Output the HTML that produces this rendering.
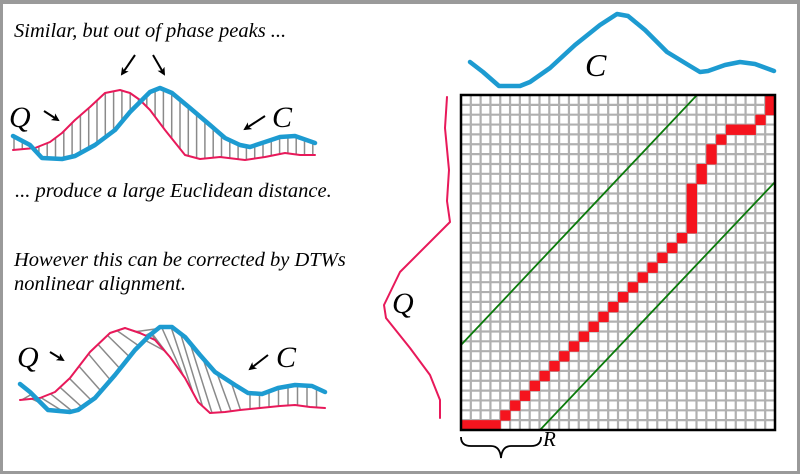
<!DOCTYPE html>
<html><head><meta charset="utf-8"><style>
html,body{margin:0;padding:0;background:#fff}
#w{position:relative;width:800px;height:474px;overflow:hidden;box-sizing:border-box;border:3px solid #9a9a9a;border-top-width:4px}
svg{position:absolute;left:-3px;top:-4px}
text{font-family:"Liberation Serif",serif;font-style:italic;fill:#000}
</style></head><body><div id="w">
<svg id="s" width="800" height="474" viewBox="0 0 800 474" xmlns="http://www.w3.org/2000/svg">
<defs><marker id="ah" markerWidth="8" markerHeight="8" refX="6" refY="4" orient="auto" markerUnits="userSpaceOnUse"><path d="M0,0 L8,4 L0,8 L2,4z" fill="#000"/></marker></defs>
<g id="hatch" stroke="#8a8a8a" stroke-width="1.5"></g>
<g id="grid"></g>
<text x="14" y="37" font-size="20.5">Similar, but out of phase peaks ...</text>
<text x="15" y="197" font-size="20.5">... produce a large Euclidean distance.</text>
<text x="14" y="266" font-size="20.5">However this can be corrected by DTWs</text>
<text x="14" y="290" font-size="20.5">nonlinear alignment.</text>
<text x="9" y="127" font-size="30">Q</text>
<text x="272" y="127" font-size="30">C</text>
<text x="17" y="367" font-size="30">Q</text>
<text x="276" y="367" font-size="30">C</text>
<text x="585" y="76" font-size="32">C</text>
<text x="392" y="313" font-size="30">Q</text>
<text x="543" y="446" font-size="21">R</text>
<g stroke="#000" stroke-width="2" fill="none" marker-end="url(#ah)">
<line x1="135" y1="55" x2="122" y2="74"/>
<line x1="153" y1="55" x2="164" y2="74"/>
<line x1="44" y1="111" x2="58" y2="120"/>
<line x1="265" y1="116" x2="245" y2="129"/>
<line x1="50" y1="352" x2="63" y2="360"/>
<line x1="268" y1="355" x2="250" y2="369"/>
</g>
<path d="M461,437 q0,9 10,9 h20 q9,0 10,12 q1,-12 10,-12 h20 q10,0 10,-9" stroke="#000" stroke-width="1.8" fill="none"/>
</svg>
<script>
const S=document.getElementById('s'),NS='http://www.w3.org/2000/svg';
function el(t,a,p){const e=document.createElementNS(NS,t);for(const k in a)e.setAttribute(k,a[k]);(p||S).appendChild(e);return e}
function pl(pts,c,w){el('polyline',{points:pts.map(p=>p.join(',')).join(' '),fill:'none',stroke:c,'stroke-width':w,'stroke-linejoin':'round','stroke-linecap':'round'})}
function yat(pts,x){for(let i=0;i<pts.length-1;i++){const a=pts[i],b=pts[i+1];if(x>=a[0]&&x<=b[0])return a[1]+(b[1]-a[1])*(x-a[0])/(b[0]-a[0]);}return pts[x<pts[0][0]?0:pts.length-1][1]}
const H=document.getElementById('hatch');
const b1=[[13,136],[30,145],[42,158],[62,159],[75,156],[95,145],[115,130],[130,112],[150,92],[160,88],[172,93],[190,108],[210,125],[225,138],[240,145],[250,147],[265,142],[280,137],[295,136],[315,143]];
const p1=[[13,150],[35,148],[50,142],[62,133],[75,120],[90,107],[105,93],[120,90],[130,93],[140,100],[150,110],[165,130],[185,155],[200,159],[220,157],[245,160],[265,157],[285,153],[300,155],[315,155]];
for(let x=14;x<=316;x+=8.3){el('line',{x1:x,y1:yat(b1,x),x2:x,y2:yat(p1,x)},H)}
const b2=[[20,384],[30,392],[48,410],[70,412],[78,410],[95,398],[115,375],[135,350],[150,335],[160,327],[172,327],[185,337],[200,355],[215,372],[235,385],[248,393],[262,394],[278,388],[295,385],[312,386],[325,392]];
const p2=[[20,400],[40,398],[55,392],[70,378],[90,352],[110,333],[125,328],[140,333],[155,340],[170,357],[185,378],[198,402],[210,413],[225,412],[240,410],[260,408],[280,406],[295,405],[310,407],[325,408]];
function sh(x){if(x<40)return 10;if(x<140)return 22;if(x<165)return 22-(x-140)*1.7;if(x<215)return -22;if(x<250)return -22+(x-215)*0.5;return 0}
for(let x=22;x<=323;x+=9.5){let bx=Math.max(20,Math.min(325,x+sh(x)));el('line',{x1:x,y1:yat(p2,x),x2:bx,y2:yat(b2,bx)},H)}
pl(p1,'#e8195a',2);pl(b1,'#1d9bd1',4.5);
pl(p2,'#e8195a',2);pl(b2,'#1d9bd1',4.5);
pl([[470,62],[483,72],[499,86],[520,86],[530,82],[550,68],[575,45],[600,25],[617,14],[628,16],[645,30],[667,52],[690,66],[700,72],[708,71],[725,65],[740,62],[755,64],[774,71]],'#1d9bd1',4.5);
pl([[447,97],[445,128],[449,170],[447,201],[450,222],[400,272],[384,305],[386,318],[410,348],[430,375],[440,400],[440,418]],'#e8195a',2);
const G=document.getElementById('grid');
const X0=461,Y0=95,X1=775,Y1=430,NC=32,NR=34,cw=(X1-X0)/NC,ch=(Y1-Y0)/NR;
el('rect',{x:X0,y:Y0,width:X1-X0,height:Y1-Y0,fill:'#fff'},G);
for(let i=1;i<NC;i++)el('line',{x1:X0+i*cw,y1:Y0,x2:X0+i*cw,y2:Y1,stroke:'#b0b0b0','stroke-width':2.2},G);
for(let j=1;j<NR;j++)el('line',{x1:X0,y1:Y0+j*ch,x2:X1,y2:Y0+j*ch,stroke:'#b0b0b0','stroke-width':2.2},G);
const cells=[[0,0],[1,0],[2,0],[3,0]];
for(let r=1;r<=21;r++)cells.push([Math.min(r+3,22)+(r>=20?1:0),r]);
cells.push([23,21],[23,22],[23,23],[23,24],[24,25],[24,26],[25,27],[25,28],[26,29],[27,30],[28,30],[29,30],[30,31],[31,32],[31,33]);
cells.forEach(([c,r])=>el('rect',{x:X0+c*cw,y:Y1-(r+1)*ch,width:cw+0.5,height:ch+0.5,fill:'#f5141e'},G));
el('line',{x1:X0,y1:345,x2:697,y2:Y0,stroke:'#0a7a0a','stroke-width':1.8},G);
el('line',{x1:540,y1:Y1,x2:X1,y2:182,stroke:'#0a7a0a','stroke-width':1.8},G);
el('rect',{x:X0,y:Y0,width:X1-X0,height:Y1-Y0,fill:'none',stroke:'#000','stroke-width':2.5},G);
</script>
</div></body></html>
